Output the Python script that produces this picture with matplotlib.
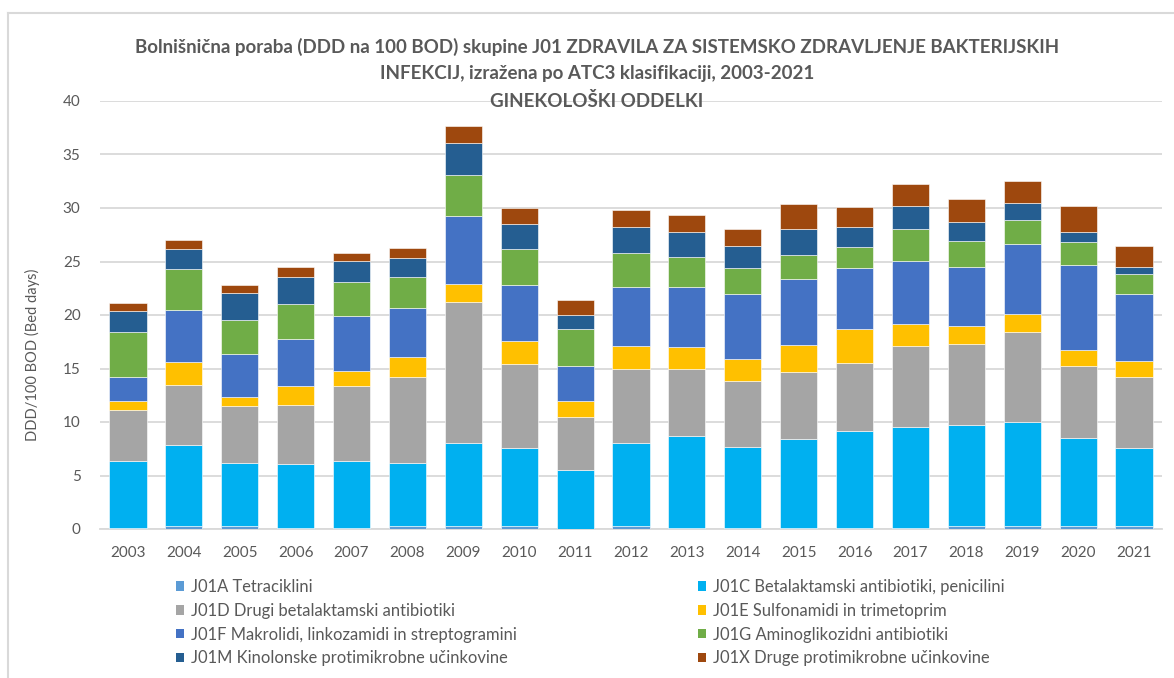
import matplotlib
matplotlib.use("Agg")
import matplotlib.pyplot as plt
import numpy as np
from matplotlib.lines import Line2D
from matplotlib.patches import Patch

plt.rcParams['font.family'] = ['Lato', 'DejaVu Sans']

W, H = 1174, 678
TXT = '#595959'
GRID = '#d9d9d9'

years = [str(y) for y in range(2003, 2022)]

# DDD per 100 bed days, by ATC3 group
j01a = [0.10, 0.31, 0.31, 0.05, 0.05, 0.25, 0.25, 0.31, 0.03, 0.25,
        0.10, 0.10, 0.10, 0.10, 0.10, 0.31, 0.25, 0.25, 0.25]
j01c = [6.24, 7.52, 5.87, 6.07, 6.35, 5.90, 7.76, 7.30, 5.47, 7.76,
        8.56, 7.57, 8.32, 9.06, 9.40, 9.44, 9.72, 8.23, 7.33]
j01d = [4.81, 5.59, 5.31, 5.49, 6.92, 8.01, 13.23, 7.79, 4.93, 6.93,
        6.28, 6.12, 6.24, 6.40, 7.58, 7.58, 8.41, 6.71, 6.58]
j01e = [0.81, 2.17, 0.84, 1.78, 1.43, 1.93, 1.65, 2.18, 1.53, 2.14,
        2.08, 2.14, 2.51, 3.17, 2.08, 1.61, 1.74, 1.55, 1.52]
j01f = [2.23, 4.91, 4.07, 4.37, 5.19, 4.59, 6.36, 5.25, 3.32, 5.50,
        5.62, 6.06, 6.22, 5.68, 5.90, 5.59, 6.53, 7.89, 6.31]
j01g = [4.19, 3.79, 3.10, 3.26, 3.10, 2.86, 3.82, 3.32, 3.45, 3.23,
        2.76, 2.36, 2.26, 1.93, 2.95, 2.36, 2.23, 2.17, 1.80]
j01m = [1.96, 1.86, 2.52, 2.55, 1.96, 1.80, 3.05, 2.39, 1.24, 2.39,
        2.40, 2.14, 2.36, 1.89, 2.18, 1.84, 1.62, 1.00, 0.74]
j01x = [0.75, 0.84, 0.78, 0.87, 0.81, 0.90, 1.58, 1.46, 1.40, 1.58,
        1.55, 1.52, 2.36, 1.83, 2.08, 2.08, 2.05, 2.36, 1.90]

labels = [
    'J01A Tetraciklini',
    'J01C Betalaktamski antibiotiki, penicilini',
    'J01D Drugi betalaktamski antibiotiki',
    'J01E Sulfonamidi in trimetoprim',
    'J01F Makrolidi, linkozamidi in streptogramini',
    'J01G Aminoglikozidni antibiotiki',
    'J01M Kinolonske protimikrobne učinkovine',
    'J01X Druge protimikrobne učinkovine',
]
colors = ['#5b9bd5', '#00b0f0', '#a5a5a5', '#ffc000',
          '#4472c4', '#70ad47', '#255e91', '#9e480e']
series = [j01a, j01c, j01d, j01e, j01f, j01g, j01m, j01x]

fig = plt.figure(figsize=(W / 100, H / 100), dpi=100)

# plot area in pixel terms
left, right, top, bottom = 100, 1162, 101, 529
ax = fig.add_axes([left / W, 1 - bottom / H, (right - left) / W, (bottom - top) / H])

x = np.arange(len(years))
base = np.zeros(len(years))
handles = []
for vals, col, lab in zip(series, colors, labels):
    vals = np.array(vals)
    ax.bar(x, vals, bottom=base, width=0.665, color=col,
           edgecolor='white', linewidth=0.4, zorder=3)
    base += vals
    handles.append(Patch(facecolor=col, label=lab))

ax.set_xlim(-0.5, len(years) - 0.5)
ax.set_ylim(0, 40)
ax.set_yticks(range(0, 41, 5))
ax.set_xticks(x)
ax.set_xticklabels(years)
ax.yaxis.grid(True, color=GRID, linewidth=1.3, zorder=0)
ax.set_axisbelow(True)
for s in ['top', 'right', 'left']:
    ax.spines[s].set_visible(False)
ax.spines['bottom'].set_color(GRID)
ax.spines['bottom'].set_linewidth(1.3)
ax.tick_params(axis='both', length=0, colors=TXT, labelsize=11)
ax.tick_params(axis='y', pad=14)
ax.tick_params(axis='x', pad=12)
ax.set_ylabel('DDD/100 BOD (Bed days)', color=TXT, fontsize=10.5)
ax.yaxis.set_label_coords(-60 / (right - left), 1 - (355 - top) / (bottom - top))

# title, three centred lines
title_lines = [
    'Bolnišnična poraba (DDD na 100 BOD) skupine J01 ZDRAVILA ZA SISTEMSKO ZDRAVLJENJE BAKTERIJSKIH',
    'INFEKCIJ, izražena po ATC3 klasifikaciji, 2003-2021',
    'GINEKOLOŠKI ODDELKI',
]
for i, line in enumerate(title_lines):
    fig.text(597 / W, 1 - (47 + 27 * i) / H, line, ha='center', va='center',
             fontsize=13.5, fontweight='bold', color=TXT, zorder=10)

# two-column legend: left column A, D, F, M; right column C, E, G, X
leg_kw = dict(frameon=False, fontsize=11.9, labelcolor=TXT, handlelength=0.5,
              handleheight=0.5, handletextpad=0.4, labelspacing=0.47,
              borderpad=0, borderaxespad=0, loc='upper left')
fig.legend(handles=handles[0::2], bbox_to_anchor=(176 / W, 1 - 579 / H), **leg_kw)
fig.legend(handles=handles[1::2], bbox_to_anchor=(698 / W, 1 - 579 / H), **leg_kw)

# chart area border (top and left edges)
fig.add_artist(Line2D([8 / W, 1], [1 - 13 / H, 1 - 13 / H], color=GRID, linewidth=1.5,
                      transform=fig.transFigure))
fig.add_artist(Line2D([8 / W, 8 / W], [1 - 13 / H, 0], color=GRID, linewidth=1.5,
                      transform=fig.transFigure))

fig.savefig('out.png', dpi=100)
